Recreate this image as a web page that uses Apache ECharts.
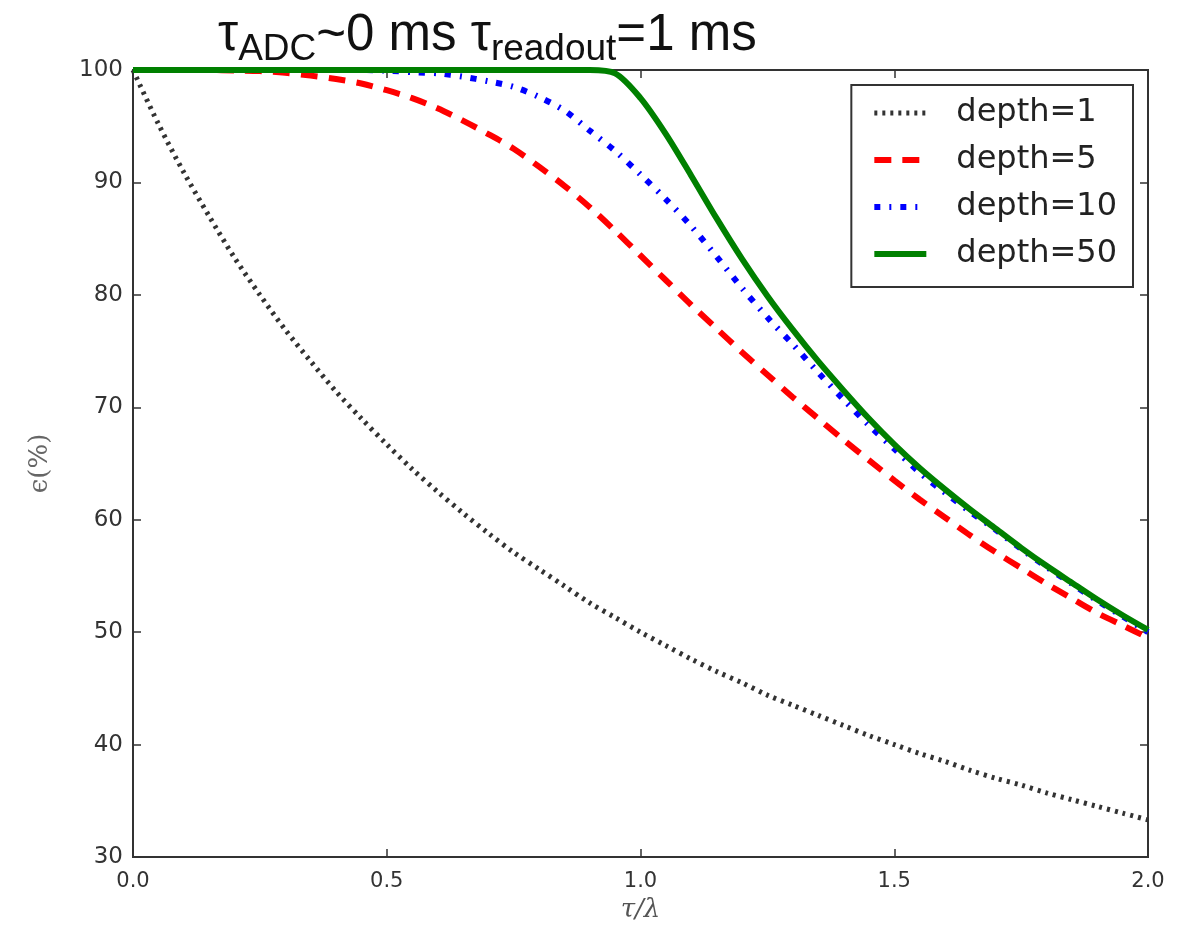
<!DOCTYPE html>
<html>
<head>
<meta charset="utf-8">
<script src="https://cdn.jsdelivr.net/npm/echarts@6/dist/echarts.min.js"></script>
<style>
html,body{margin:0;padding:0;background:#fff;}
#chart{width:1180px;height:925px;}
</style>
</head>
<body>
<div id="chart"></div>
<script>
// tau / lambda sample positions
const tau = [0.00,0.05,0.10,0.15,0.20,0.25,0.30,0.35,0.40,0.45,0.50,0.55,0.60,0.65,0.70,0.75,0.80,0.85,0.90,0.95,
             1.00,1.05,1.10,1.15,1.20,1.25,1.30,1.35,1.40,1.45,1.50,1.55,1.60,1.65,1.70,1.75,1.80,1.85,1.90,1.95,2.00];
const seriesNames = ['depth=1','depth=5','depth=10','depth=50'];
const depth1 = [100,95.2,90.9,87.0,83.3,80.0,76.9,74.1,71.4,69.0,66.7,64.5,62.5,60.6,58.8,57.1,55.6,54.1,52.6,51.3,
                50.0,48.8,47.6,46.5,45.5,44.4,43.5,42.6,41.7,40.8,40.0,39.2,38.5,37.7,37.0,36.4,35.7,35.1,34.5,33.9,33.3];
const depth5 = [100,100,100,100,99.95,99.9,99.75,99.5,99.2,98.8,98.2,97.5,96.6,95.5,94.3,93.0,91.4,89.7,87.8,85.7,
                83.5,81.3,79.1,77.0,74.9,72.9,70.9,69.0,67.1,65.3,63.5,61.8,60.2,58.6,57.1,55.7,54.3,53.0,51.7,50.6,49.5];
const depth10 = [100,100,100,100,100,100,100,100,100,100,99.95,99.8,99.7,99.4,99.0,98.5,97.6,96.4,94.6,92.8,
                 90.7,88.5,86.1,83.4,80.6,78.0,75.6,73.1,70.7,68.4,66.3,64.2,62.4,60.7,59.1,57.4,55.8,54.3,52.8,51.4,50.0];
const depth50 = [100,100,100,100,100,100,100,100,100,100,100,100,100,100,100,100,100,100,100,99.7,
                 97.5,94.3,90.6,86.8,83.2,79.9,76.9,74.1,71.5,69.0,66.7,64.6,62.7,60.9,59.2,57.5,55.9,54.4,52.9,51.5,50.2];
const xTicks = [0.0,0.5,1.0,1.5,2.0];
const yTicks = [30,40,50,60,70,80,90,100];

const pairs = arr => tau.map((t,i)=>[t,arr[i]]);

const axisCol = '#333';
const chart = echarts.init(document.getElementById('chart'), null, {renderer:'canvas'});
const baseX = {
  type:'value', min:xTicks[0], max:xTicks[xTicks.length-1], interval:0.5,
  axisLine:{show:true,onZero:false,lineStyle:{color:axisCol,width:2}},
  axisTick:{show:true,inside:true,length:8,lineStyle:{color:axisCol,width:1.5}},
  splitLine:{show:false}
};
const baseY = {
  type:'value', min:yTicks[0], max:yTicks[yTicks.length-1], interval:10,
  axisLine:{show:true,onZero:false,lineStyle:{color:axisCol,width:2}},
  axisTick:{show:true,inside:true,length:8,lineStyle:{color:axisCol,width:1.5}},
  splitLine:{show:false}
};

chart.setOption({
  backgroundColor:'#fff',
  animation:false,
  title:{
    text:'{t|τ}{s|ADC}{t|~0 ms τ}{s|readout}{t|=1 ms}',
    left:213, top:2,
    textStyle:{
      fontWeight:'normal',
      rich:{
        t:{fontFamily:'Liberation Sans',fontWeight:'normal',fontSize:51,color:'#111',verticalAlign:'bottom',lineHeight:54},
        s:{fontFamily:'Liberation Sans',fontWeight:'normal',fontSize:37,color:'#111',verticalAlign:'bottom',lineHeight:54,padding:[0,0,-7,0]}
      }
    }
  },
  grid:{left:133,right:32,top:70,bottom:68,show:true,borderColor:axisCol,borderWidth:2,
        containLabel:false,outerBoundsMode:'none'},
  xAxis:[
    Object.assign({},baseX,{
      position:'bottom',
      name:'τ/λ', nameLocation:'middle', nameGap:38,
      nameTextStyle:{fontFamily:'DejaVu Serif',fontStyle:'italic',fontSize:26,color:'#555'},
      axisLabel:{show:true,margin:14,fontFamily:'DejaVu Sans',fontSize:21,color:'#333',
        formatter:v=>v.toFixed(1)}
    }),
    Object.assign({},baseX,{position:'top',axisLabel:{show:false}})
  ],
  yAxis:[
    Object.assign({},baseY,{
      position:'left',
      name:'ϵ(%)', nameLocation:'middle', nameGap:80, nameRotate:90,
      nameTextStyle:{fontFamily:'DejaVu Serif',fontSize:26,color:'#666'},
      axisLabel:{show:true,margin:10,fontFamily:'DejaVu Sans',fontSize:23,color:'#333'}
    }),
    Object.assign({},baseY,{position:'right',axisLabel:{show:false}})
  ],
  legend:{
    orient:'vertical', right:47, top:85,
    backgroundColor:'#fff', borderColor:'#333', borderWidth:2, borderRadius:0,
    padding:[12,16,17,20], itemGap:15, itemWidth:52, itemHeight:14,
    textStyle:{fontFamily:'DejaVu Sans',fontSize:32,color:'#222',padding:[0,0,0,25],lineHeight:32},
    itemStyle:{opacity:0},
    lineStyle:{type:'inherit',width:'inherit'},
    data:seriesNames
  },
  series:[
    {name:seriesNames[0],type:'line',data:pairs(depth1),showSymbol:false,symbol:'none',smooth:0.3,
     color:'#333',lineStyle:{color:'#333',width:5,type:[3,5],cap:'butt'},z:2},
    {name:seriesNames[1],type:'line',data:pairs(depth5),showSymbol:false,symbol:'none',smooth:0.3,
     color:'#ff0000',lineStyle:{color:'#ff0000',width:6,type:[17,11],cap:'butt'},z:3},
    {name:seriesNames[2],type:'line',data:pairs(depth10),showSymbol:false,symbol:'none',smooth:0.3,
     color:'#0000ff',lineStyle:{color:'#0000ff',width:6,type:[6,9,2,9],cap:'butt'},z:4},
    {name:seriesNames[3],type:'line',data:pairs(depth50),showSymbol:false,symbol:'none',smooth:0.3,
     color:'#008000',lineStyle:{color:'#008000',width:6,type:'solid'},z:5}
  ]
});
</script>
</body>
</html>
